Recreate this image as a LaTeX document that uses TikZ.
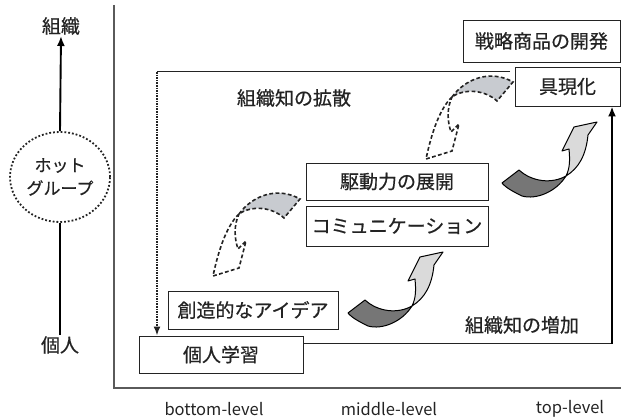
\documentclass[tikz,border=0pt]{standalone}
\usepackage{fontspec}
\setmainfont{Noto Sans CJK JP}[FakeBold=0.6]
\newfontfamily\lvlfont{Noto Sans CJK JP}
\usetikzlibrary{arrows.meta,shapes.geometric}
\definecolor{ink}{RGB}{35,35,35}
\definecolor{axis}{RGB}{90,90,90}
\definecolor{dgray}{RGB}{200,203,208}
\definecolor{sdark}{RGB}{118,118,118}
\definecolor{slight}{RGB}{218,218,218}
\tikzset{
  box/.style={draw=ink, line width=0.9pt, inner sep=0pt, font=\fontsize{19}{22}\selectfont, text=ink},
  lbl/.style={inner sep=1pt, font=\fontsize{19}{22}\selectfont, text=ink},
  lvl/.style={inner sep=1pt, font=\lvlfont\fontsize{16.5}{19}\selectfont, text=ink},
  dashline/.style={draw=ink, line width=1.6pt, dash pattern=on 3.8pt off 2.4pt},
  soldline/.style={draw=black, line width=1pt, line join=round},
  dashcurl/.pic={
    \path[dashline, fill=dgray] (452,97) .. controls (465,79) and (490,69) .. (513,82) -- (497,101) .. controls (485,90) and (465,88) .. (452,97) -- cycle;
    \path[dashline, fill=white] (452,97) .. controls (438,110) and (430,140) .. (426,159) -- (452,151) -- (459,124) -- (451,132) .. controls (447,120) and (447,108) .. (452,97) -- cycle;
  },
  solidcurl/.pic={
    \path[soldline, fill=sdark] (348,313) -- (365,300) .. controls (378,312) and (398,314) .. (412,306) .. controls (402,322) and (382,330) .. (368,326) .. controls (360,322) and (352,318) .. (348,313) -- cycle;
    \path[soldline, fill=slight] (412,306) .. controls (416,298) and (416,290) .. (415,279) -- (408,281) -- (420,257) -- (443,252) -- (434,265) .. controls (432,285) and (425,298) .. (412,306) -- cycle;
  }
}
\begin{document}
\begin{tikzpicture}[x=1pt,y=-1pt]
\useasboundingbox (0,0) rectangle (621,419);
% axes
\coordinate (axtop) at (114,5);
\coordinate (axorig) at (114,388);
\coordinate (axright) at (621,388);
\draw[axis, line width=1.2pt] (axtop) -- (axorig) -- (axright);
% level labels
\node[lvl] (lb) at (214,409) {bottom-level};
\node[lvl] (lm) at (389,409) {middle-level};
\node[lvl] (lt) at (570,409) {top-level};
% left scale
\node[lbl] (soshiki) at (61,26) {組織};
\node[lbl] (kojinl) at (60,345) {個人};
\node[draw=ink, line width=1.8pt, dotted, ellipse, minimum width=100pt, minimum height=90pt, inner sep=0pt, align=center, font=\fontsize{17}{23}\selectfont, text=ink] (hot) at (60,177) {ホット\\グループ};
\draw[line width=1.9pt, -{Latex[length=10pt,width=8pt]}] (hot.north) -- (soshiki.south);
\draw[line width=1.9pt] (kojinl.north) -- (hot.south);
% boxes
\node[box, minimum width=157pt, minimum height=42pt] (senryaku) at (541.5,41) {戦略商品の開発};
\node[box, minimum width=105pt, minimum height=39pt] (gugen) at (567.5,86.5) {具現化};
\node[box, minimum width=182pt, minimum height=37pt] (kudo) at (397,181.5) {駆動力の展開};
\node[box, minimum width=182pt, minimum height=40pt] (comm) at (397,226) {コミュニケーション};
\node[box, minimum width=170pt, minimum height=38pt] (sozo) at (253,310) {創造的なアイデア};
\node[box, minimum width=164pt, minimum height=37pt] (kojin) at (221,354.5) {個人学習};
% loop lines
\coordinate (tl) at (157,72);
\coordinate (tr) at (510,72);
\coordinate (br) at (612,344);
\draw[ink, line width=1pt] (tr) -- (tl);
\draw[ink, line width=1.6pt, densely dotted, -{Latex[length=9pt,width=7pt]}] (tl) -- (tl |- kojin.north);
\draw[ink, line width=1pt] (br -| kojin.east) -- (br);
\draw[black, line width=2pt, -{Latex[length=10pt,width=8pt]}] (br) -- (br |- gugen.south);
% region labels
\node[lbl] (kakusan) at (294,98) {組織知の拡散};
\node[lbl] (zoka) at (522,325) {組織知の増加};
% curly arrows
\pic at (0,0) {dashcurl};
\pic at (-213,117) {dashcurl};
\pic at (0,0) {solidcurl};
\pic at (154,-130) {solidcurl};
\end{tikzpicture}
\end{document}
